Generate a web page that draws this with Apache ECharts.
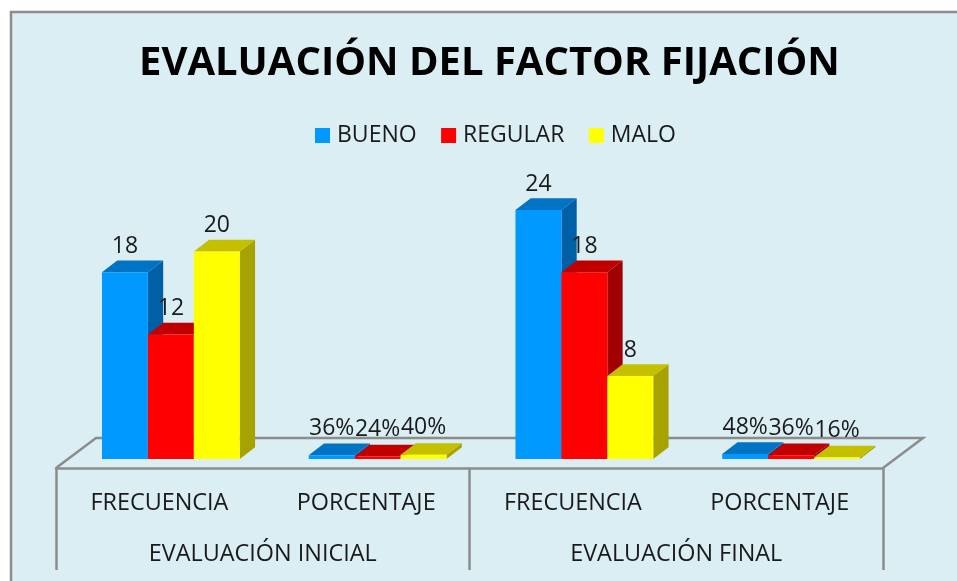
<!DOCTYPE html>
<html><head><meta charset="utf-8">
<style>html,body{margin:0;padding:0;background:#fff}#c{width:957px;height:581px}</style>
<script src="https://cdn.jsdelivr.net/npm/echarts@6/dist/echarts.min.js"></script>
</head><body><div id="c"></div>
<script>
const categories = ['FRECUENCIA','PORCENTAJE','FRECUENCIA','PORCENTAJE'];
const groups = ['EVALUACIÓN INICIAL','EVALUACIÓN FINAL'];
const bueno = [18,0.36,24,0.48];
const regular = [12,0.24,18,0.36];
const malo = [20,0.40,8,0.16];
const palette = [
 {name:'BUENO',front:'#0099FF',top:'#0073C4',side:'#0060A6',data:bueno},
 {name:'REGULAR',front:'#FF0000',top:'#C00000',side:'#A00000',data:regular},
 {name:'MALO',front:'#FFFF00',top:'#C4C000',side:'#A6A300',data:malo}
];
const DX=15.3, DY=11.7, SHIFT=11.5, FONT='"Open Sans"', INK='#1a1a1a', LINE='#8c8c8c';
const fmt=(v,i)=> i%2===1 ? Math.round(v*100)+'%' : String(v);
function barItem(si,c){
 return function(params,api){
  const i=api.value(0), v=api.value(1);
  const w=api.size([1,0])[0]*0.2222;
  const base=api.coord([i,0]), t=api.coord([i,v]);
  const x0=base[0]+SHIFT+(si-1.5)*w, x1=x0+w, y0=base[1], y1=t[1];
  const poly=(pts,fill)=>({type:'polygon',shape:{points:pts},style:{fill:fill}});
  return {type:'group',children:[
   poly([[x1,y1],[x1+DX,y1-DY],[x1+DX,y0-DY],[x1,y0]],c.side),
   poly([[x0,y1],[x0+DX,y1-DY],[x1+DX,y1-DY],[x1,y1]],c.top),
   poly([[x0,y1],[x1,y1],[x1,y0],[x0,y0]],c.front),
   {type:'text',z2:50,style:{text:fmt(v,i),x:(x0+x1)/2,y:y1-(i%2===1?27:26),align:'center',verticalAlign:'middle',
     font:'23px '+FONT,fill:INK}}
  ]};
 };
}
const series=[{
 type:'custom',silent:true,xAxisIndex:0,yAxisIndex:0,z:1,data:[[0,0]],legendHoverLink:false,
 renderItem(params,api){
  const s=api.size([1,0])[0];
  const p=api.coord([0,0]);
  const l=p[0]-s/2, r=l+s*4, f=p[1]+9, b=f-30, d=40;
  return {type:'polyline',shape:{points:[[l,f],[l+d,b],[r+d,b],[r,f]]},style:{stroke:LINE,lineWidth:2.5,fill:null}};
 }
}].concat(palette.map((c,si)=>({
 type:'custom',name:c.name,xAxisIndex:0,yAxisIndex:0,z:2+si,silent:true,
 itemStyle:{color:c.front},
 data:c.data.map((v,i)=>[i,v]),
 renderItem:barItem(si,c)
})));
const chart=echarts.init(document.getElementById('c'),null,{renderer:'canvas'});
chart.setOption({
 animation:false,
 backgroundColor:'#fff',
 graphic:[{type:'rect',z:-10,shape:{x:11,y:12,width:960,height:600},style:{fill:'#DAEEF3',stroke:LINE,lineWidth:2.5}}],
 title:{text:'EVALUACIÓN DEL FACTOR FIJACIÓN',left:134,top:39,itemGap:0,
  textStyle:{fontFamily:FONT,fontWeight:'bold',fontSize:40,color:'#000'}},
 legend:{left:310,top:119,itemWidth:15,itemHeight:15,itemGap:24.5,icon:'rect',selectedMode:false,
  data:palette.map(c=>c.name),
  textStyle:{fontFamily:FONT,fontSize:23,color:INK,padding:[0,0,0,2]}},
 grid:{left:56,width:827,top:189.25,height:269.75},
 xAxis:[
  {type:'category',data:categories,position:'bottom',axisLine:{show:false},axisTick:{show:false},
   axisLabel:{margin:33,fontFamily:FONT,fontSize:23.4,color:INK,interval:0}},
  {type:'category',data:groups,position:'bottom',offset:9,
   axisLine:{show:true,lineStyle:{color:LINE,width:2.5}},
   axisTick:{show:true,length:102,alignWithLabel:false,lineStyle:{color:LINE,width:2.5}},
   axisLabel:{margin:75,fontFamily:FONT,fontSize:23.4,color:INK,interval:0}}
 ],
 yAxis:{type:'value',min:0,max:26,show:false},
 series:series
});
</script></body></html>
